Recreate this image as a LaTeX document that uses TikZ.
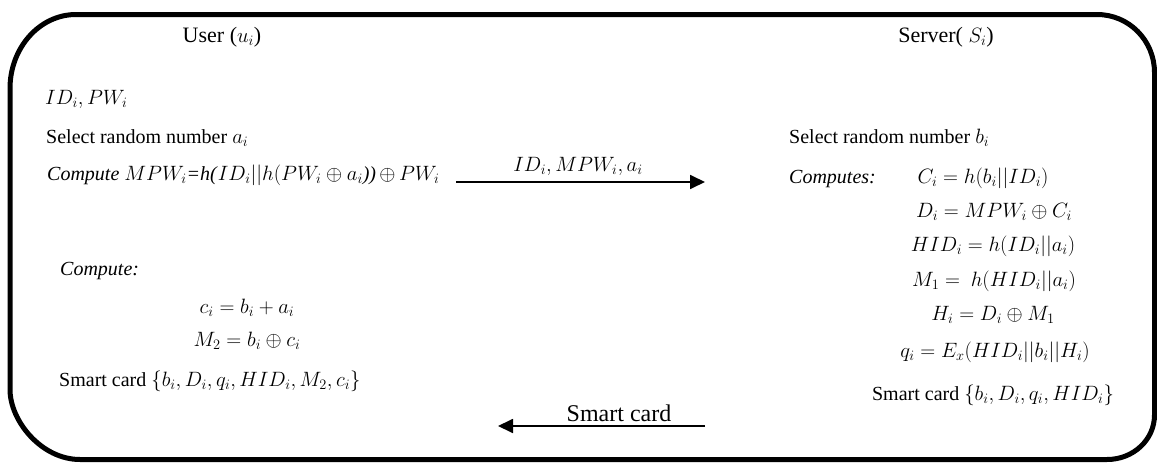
\documentclass[tikz,border=0pt]{standalone}
\usepackage{fontspec}
\setmainfont{Liberation Serif}
\usetikzlibrary{arrows.meta}
% slightly wider formulas next to the 20pt text
\DeclareMathSizes{20}{21}{15.5}{11.5}
\begin{document}
\begin{tikzpicture}[x=1pt,y=-1pt,
  txt/.style={inner sep=0pt, font=\fontsize{20}{24}\selectfont},
  lt/.style={txt, anchor=base west},
  ct/.style={txt, anchor=base},
  head/.style={inner sep=0pt, anchor=base, font=\fontsize{22}{26}\selectfont},
  frame/.style={line width=5pt},
  msg/.style={line width=1.8pt, -{Triangle[length=15pt,width=14pt]}},
  msglabel/.style={inner sep=0pt, anchor=base}]
\useasboundingbox (0,0) rectangle (1157,463);

% outer frame with rounded corners
\draw[frame] (10,250) -- (10,88.5)
  .. controls (10,47.7) and (39.6,14.5) .. (76,14.5)
  -- (1097,14.5)
  .. controls (1129,14.5) and (1154.5,40.5) .. (1154.5,72.5)
  -- (1154.5,415)
  .. controls (1154.5,439.6) and (1133.5,459.5) .. (1107,459.5)
  -- (80,459.5)
  .. controls (41.4,459.5) and (10,420.9) .. (10,389.5)
  -- cycle;

% headings
\node[head] (user) at (222,42) {User ($u_i$)};
\node[head] (server) at (946,42) {Server( $S_i$)};

% user side, registration request
\node[lt] (idpw) at (45,104) {$ID_i, PW_i$};
\node[lt] (sela) at (46,143) {Select random number $a_i$};
\node[lt] (mpw) at (47,180) {\textit{Compute} $MPW_i$\textit{=h(}$ID_i||h(PW_i \oplus a_i$\textit{))}\,$\oplus\, PW_i$};

% server side
\node[lt] (selb) at (789,143) {Select random number $b_i$};
\node[lt] (comps) at (789,183) {\textit{Computes:}};
\node[ct] (ci) at (983,183) {$C_i = h(b_i||ID_i)$};
\node[ct] (di) at (994,217) {$D_i = MPW_i \oplus C_i$};
\node[ct] (hid) at (993,251) {$HID_i = h(ID_i||a_i)$};
\node[ct] (m1) at (994,286) {$M_1 = \ h(HID_i||a_i)$};
\node[ct] (hi) at (993,320) {$H_i = D_i \oplus M_1$};
\node[ct] (qi) at (995,357) {$q_i = E_x(HID_i||b_i||H_i)$};
\node[ct] (scs) at (993,400) {Smart card $\{b_i, D_i, q_i, HID_i\}$};

% user side, after receiving the card
\node[lt] (compu) at (60,275) {\textit{Compute:}};
\node[ct] (cu) at (247,313) {$c_i = b_i + a_i$};
\node[ct] (m2) at (247,346) {$M_2 = b_i \oplus c_i$};
\node[lt] (scu) at (59,386) {Smart card $\{b_i, D_i, q_i, HID_i, M_2, c_i\}$};

% messages
\coordinate (r1) at (456,182);
\coordinate (r2) at (705,182);
\draw[msg] (r1) -- (r2);
\node[msglabel, font=\fontsize{20}{24}\selectfont] (m1lbl) at (578,171) {$ID_i, MPW_i, a_i$};

\coordinate (s1) at (705,426);
\coordinate (s2) at (498,426);
\draw[msg] (s1) -- (s2);
\node[msglabel, font=\fontsize{24}{28}\selectfont] (m2lbl) at (619,421) {Smart card};
\end{tikzpicture}
\end{document}
